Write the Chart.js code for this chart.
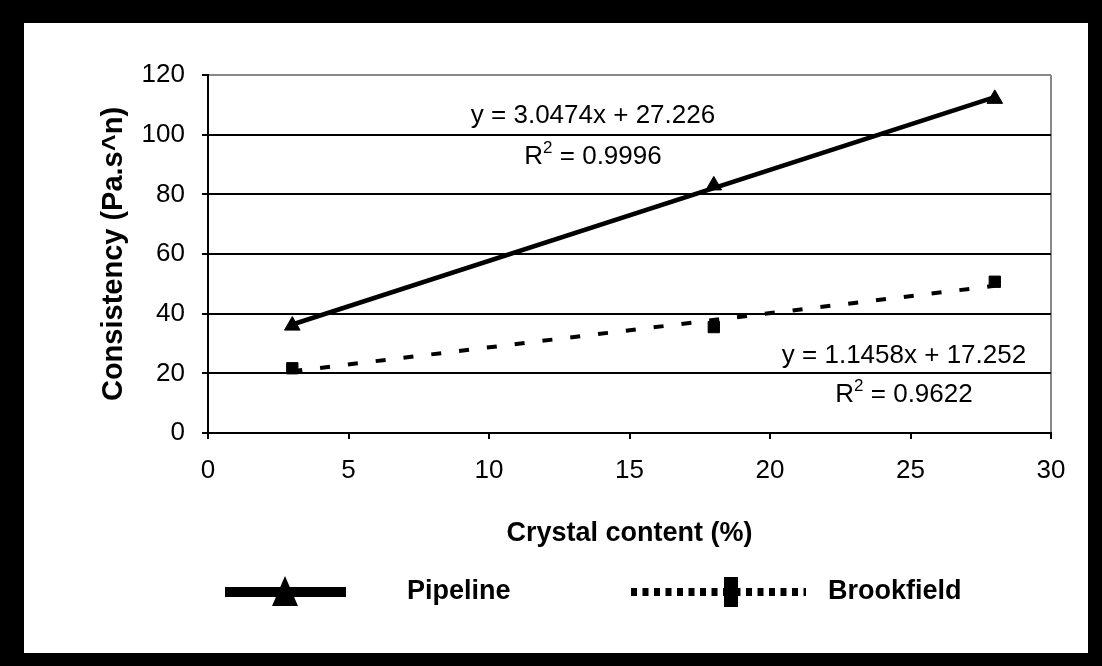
<!DOCTYPE html>
<html>
<head>
<meta charset="utf-8">
<script src="https://cdn.jsdelivr.net/npm/chart.js@4"></script>
<style>
  html, body { margin: 0; padding: 0; background: #000; width: 1102px; height: 666px; overflow: hidden; }
  #frame { position: absolute; left: 24px; top: 23px; width: 1064px; height: 630px; background: #fff; }
  canvas { display: block; }
</style>
</head>
<body>
<div id="frame"><canvas id="c" width="1064" height="630"></canvas></div>
<script>
// ---- data ----
const crystalContent = [3, 18, 28];
const pipelineValues = [36, 83, 112];
const brookfieldValues = [21.7, 35.5, 50.7];
const seriesNames = ['Pipeline', 'Brookfield'];
const trendSlopes = [3.0474, 1.1458];
const trendIntercepts = [27.226, 17.252];
const trendR2 = ['0.9996', '0.9622'];
const xAxisTitle = 'Crystal content (%)';
const yAxisTitle = 'Consistency (Pa.s^n)';
const xRange = [0, 30, 5];
const yRange = [0, 120, 20];

const FONT = "'Liberation Sans', Arial, sans-serif";

function pts(xs, ys) { return xs.map((x, i) => ({ x: x, y: ys[i] })); }
function trend(i) {
  const x0 = Math.min(...crystalContent), x1 = Math.max(...crystalContent);
  return [x0, x1].map(x => ({ x: x, y: trendSlopes[i] * x + trendIntercepts[i] }));
}
function eqText(i) {
  return 'y = ' + trendSlopes[i] + 'x + ' + trendIntercepts[i];
}

const equationPlugin = {
  id: 'equations',
  afterDatasetsDraw(chart) {
    const ctx = chart.ctx;
    const ca = chart.chartArea;
    const anchors = [
      { x: ca.left + 385, y1: ca.top + 41, y2: ca.top + 82 },
      { x: ca.left + 696, y1: ca.top + 281, y2: ca.top + 320 }
    ];
    ctx.save();
    ctx.fillStyle = '#000';
    ctx.textBaseline = 'middle';
    anchors.forEach((a, i) => {
      ctx.font = '26px ' + FONT;
      ctx.textAlign = 'center';
      ctx.fillText(eqText(i), a.x, a.y1);
      const rest = ' = ' + trendR2[i];
      ctx.font = '26px ' + FONT;
      const wR = ctx.measureText('R').width;
      const wRest = ctx.measureText(rest).width;
      ctx.font = '17px ' + FONT;
      const w2 = ctx.measureText('2').width;
      const total = wR + w2 + wRest;
      let x = a.x - total / 2;
      ctx.textAlign = 'left';
      ctx.font = '26px ' + FONT;
      ctx.fillText('R', x, a.y2);
      x += wR;
      ctx.font = '17px ' + FONT;
      ctx.fillText('2', x, a.y2 - 9);
      x += w2;
      ctx.font = '26px ' + FONT;
      ctx.fillText(rest, x, a.y2);
    });
    ctx.restore();
  }
};

const legendPlugin = {
  id: 'customLegend',
  afterDraw(chart) {
    const ctx = chart.ctx;
    const y = 569;
    ctx.save();
    ctx.fillStyle = '#000';
    ctx.strokeStyle = '#000';
    ctx.lineWidth = 10;
    ctx.beginPath();
    ctx.moveTo(201, y); ctx.lineTo(322, y);
    ctx.stroke();
    ctx.beginPath();
    ctx.moveTo(261, y - 16); ctx.lineTo(274, y + 14); ctx.lineTo(248, y + 14); ctx.closePath();
    ctx.fill();
    ctx.lineWidth = 8;
    ctx.setLineDash([6, 5.5]);
    ctx.beginPath();
    ctx.moveTo(607, y); ctx.lineTo(782, y);
    ctx.stroke();
    ctx.setLineDash([]);
    ctx.fillRect(700, y - 15, 14, 30);
    ctx.font = 'bold 27px ' + FONT;
    ctx.textAlign = 'left';
    ctx.textBaseline = 'middle';
    ctx.fillText(seriesNames[0], 383, y);
    ctx.fillText(seriesNames[1], 804, y);
    ctx.restore();
  }
};

new Chart(document.getElementById('c'), {
  type: 'scatter',
  data: {
    datasets: [
      {
        label: seriesNames[0] + ' trend',
        data: trend(0),
        showLine: true,
        borderColor: '#000',
        borderWidth: 4.5,
        pointRadius: 0,
        order: 3
      },
      {
        label: seriesNames[1] + ' trend',
        data: trend(1),
        showLine: true,
        borderColor: '#000',
        borderWidth: 4,
        borderDash: [10, 18],
        pointRadius: 0,
        order: 4
      },
      {
        label: seriesNames[0],
        data: pts(crystalContent, pipelineValues),
        pointStyle: 'triangle',
        pointRadius: 9,
        backgroundColor: '#000',
        borderColor: '#000',
        order: 1
      },
      {
        label: seriesNames[1],
        data: pts(crystalContent, brookfieldValues),
        pointStyle: 'rect',
        pointRadius: 8,
        backgroundColor: '#000',
        borderColor: '#000',
        order: 2
      }
    ]
  },
  options: {
    responsive: false,
    animation: false,
    layout: { padding: { top: 52, right: 37, left: 0, bottom: 0 } },
    plugins: {
      legend: { display: false },
      tooltip: { enabled: false }
    },
    scales: {
      x: {
        type: 'linear',
        min: xRange[0], max: xRange[1],
        ticks: { stepSize: xRange[2], color: '#000', font: { family: FONT, size: 26 }, padding: 16, maxRotation: 0 },
        grid: {
          color: c => (c.tick && c.tick.value === xRange[1]) ? '#888' : 'rgba(0,0,0,0)',
          tickColor: '#000',
          lineWidth: 2,
          tickLength: 6
        },
        border: { color: '#000', width: 2 },
        title: { display: true, text: xAxisTitle, color: '#000', font: { family: FONT, size: 27, weight: 'bold' }, padding: { top: 0, bottom: 103 } },
        afterFit: s => { s.height = 220; }
      },
      y: {
        type: 'linear',
        min: yRange[0], max: yRange[1],
        ticks: { stepSize: yRange[2], color: '#000', font: { family: FONT, size: 26 }, padding: 17 },
        grid: {
          color: c => (c.tick && c.tick.value === yRange[1]) ? '#888' : '#000',
          tickColor: '#000',
          lineWidth: 2,
          tickLength: 6
        },
        border: { color: '#000', width: 2 },
        title: { display: true, text: yAxisTitle, color: '#000', font: { family: FONT, size: 29, weight: 'bold' }, padding: { top: 73, bottom: 0 } },
        afterFit: s => { s.width = 184; }
      }
    }
  },
  plugins: [equationPlugin, legendPlugin]
});
</script>
</body>
</html>
